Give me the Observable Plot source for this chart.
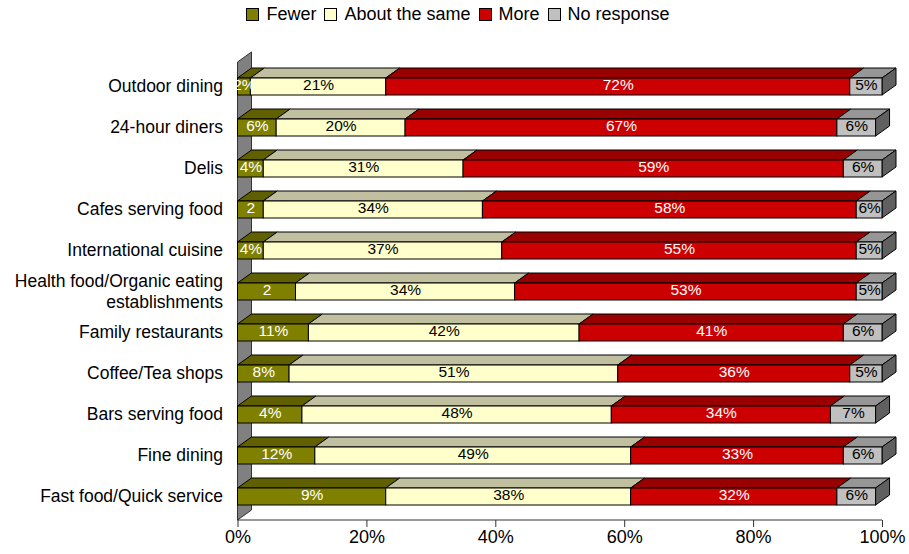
<!DOCTYPE html>
<html><head><meta charset="utf-8">
<script src="https://cdn.jsdelivr.net/npm/d3@7"></script>
<script src="https://cdn.jsdelivr.net/npm/@observablehq/plot@0.6"></script>
<style>
body{margin:0;background:#fff;font-family:"Liberation Sans",Arial,sans-serif;}
#legend{height:28px;display:flex;align-items:center;justify-content:center;padding-left:15px;box-sizing:border-box;font-size:18px;color:#000;}
.item{display:flex;align-items:center;margin-right:8px;}
.sw{width:11px;height:11px;border:1px solid #000;margin-right:7px;}
#chart svg{display:block;}
</style></head><body>
<div id="legend"></div>
<div id="chart"></div>
<script>
// ---- data ----
const categories = ["Outdoor dining","24-hour diners","Delis","Cafes serving food","International cuisine","Health food/Organic eating\nestablishments","Family restaurants","Coffee/Tea shops","Bars serving food","Fine dining","Fast food/Quick service"];
const seriesNames = ["Fewer","About the same","More","No response"];
const fewer      = [2, 6, 4, 4, 4, 9, 11, 8, 10, 12, 23];
const aboutSame  = [21, 20, 31, 34, 37, 34, 42, 51, 48, 49, 38];
const more       = [72, 67, 59, 58, 55, 53, 41, 36, 34, 33, 32];
const noResponse = [5, 6, 6, 4, 4, 4, 6, 5, 7, 6, 6];
const fewerLabels = ["2%","6%","4%","2","4%","2","11%","8%","4%","12%","9%"];
const aboutLabels = ["21%","20%","31%","34%","37%","34%","42%","51%","48%","49%","38%"];
const moreLabels  = ["72%","67%","59%","58%","55%","53%","41%","36%","34%","33%","32%"];
const noRespLabels= ["5%","6%","6%","6%","5%","5%","6%","5%","7%","6%","6%"];
const xTicks = [0, 20, 40, 60, 80, 100];

// ---- styles ----
const frontColors = ["#808000","#FFFFCC","#CC0000","#C0C0C0"];
const topColors   = ["#606000","#C0C0A0","#990000","#969696"];
const sideColor = "#606060";
const labelColors = ["#fff","#000","#fff","#000"];
const DX = 14, DY = 10;

// ---- table ----
const seriesValues = [fewer, aboutSame, more, noResponse];
const seriesLabels = [fewerLabels, aboutLabels, moreLabels, noRespLabels];
const table = [];
categories.forEach((cat, i) => {
  let acc = 0;
  seriesNames.forEach((s, k) => {
    const v = seriesValues[k][i];
    table.push({cat, series: s, k, x1: acc, x2: acc + v, label: seriesLabels[k][i], last: k === seriesNames.length - 1});
    acc += v;
  });
});

// legend
const lg = document.getElementById("legend");
seriesNames.forEach((s, k) => {
  const it = document.createElement("div"); it.className = "item";
  const sw = document.createElement("div"); sw.className = "sw"; sw.style.background = frontColors[k];
  const tx = document.createElement("span"); tx.textContent = s;
  it.appendChild(sw); it.appendChild(tx); lg.appendChild(it);
});

// 3D wall, baseline, top and side faces
function depthFaces(index, scales, values, dims) {
  const g = d3.create("svg:g");
  const x0 = scales.x(0), xEnd = scales.x(100);
  const yTop = dims.marginTop, yBot = dims.height - dims.marginBottom;
  g.append("path")
    .attr("d", `M${x0},${yTop}L${x0+DX},${yTop-DY}L${x0+DX},${yBot-DY}L${x0},${yBot}Z`)
    .attr("fill", "#808080").attr("stroke", "#333").attr("stroke-width", 1);
  g.append("path").attr("d", `M${x0},${yBot}H${xEnd}`).attr("stroke", "#333").attr("fill", "none");
  const bw = scales.y.bandwidth();
  for (const d of table) {
    const a = scales.x(d.x1), b = scales.x(d.x2), y0 = scales.y(d.cat);
    g.append("path")
      .attr("d", `M${a},${y0}L${b},${y0}L${b+DX},${y0-DY}L${a+DX},${y0-DY}Z`)
      .attr("fill", topColors[d.k]).attr("stroke", "#000").attr("stroke-width", 1).attr("stroke-linejoin", "round");
    if (d.last) {
      g.append("path")
        .attr("d", `M${b},${y0}L${b+DX},${y0-DY}L${b+DX},${y0+bw-DY}L${b},${y0+bw}Z`)
        .attr("fill", sideColor).attr("stroke", "#000").attr("stroke-width", 1).attr("stroke-linejoin", "round");
    }
  }
  return g.node();
}

const chart = Plot.plot({
  width: 909, height: 526,
  marginLeft: 237.5, marginRight: 27, marginTop: 34, marginBottom: 34,
  style: {fontFamily: '"Liberation Sans", Arial, sans-serif', background: "#fff", color: "#000"},
  x: {domain: [0, 100]},
  y: {domain: categories, paddingInner: 0.591, paddingOuter: 0.2955, axis: null},
  color: {domain: seriesNames, range: frontColors},
  marks: [
    depthFaces,
    Plot.barX(table, {x1: "x1", x2: "x2", y: "cat", fill: "series", stroke: "#000", strokeWidth: 1}),
    Plot.text(table.filter(d => labelColors[d.k] === "#fff"), {x: d => (d.x1 + d.x2) / 2, y: "cat", text: "label", fill: "#fff", fontSize: 15.5, dy: -1.5}),
    Plot.text(table.filter(d => labelColors[d.k] === "#000"), {x: d => (d.x1 + d.x2) / 2, y: "cat", text: "label", fill: "#000", fontSize: 15.5, dy: -1.5}),
    Plot.text(categories, {y: d => d, text: d => d, frameAnchor: "left", textAnchor: "end", dx: -15, dy: -1.5, fontSize: 17.5, lineHeight: 1.2, fill: "#000"}),
    Plot.axisX({ticks: xTicks, tickFormat: d => d + "%", tickSize: 7, tickPadding: 3, fontSize: 18, stroke: "#333"})
  ]
});
document.getElementById("chart").appendChild(chart);
</script>
</body></html>
